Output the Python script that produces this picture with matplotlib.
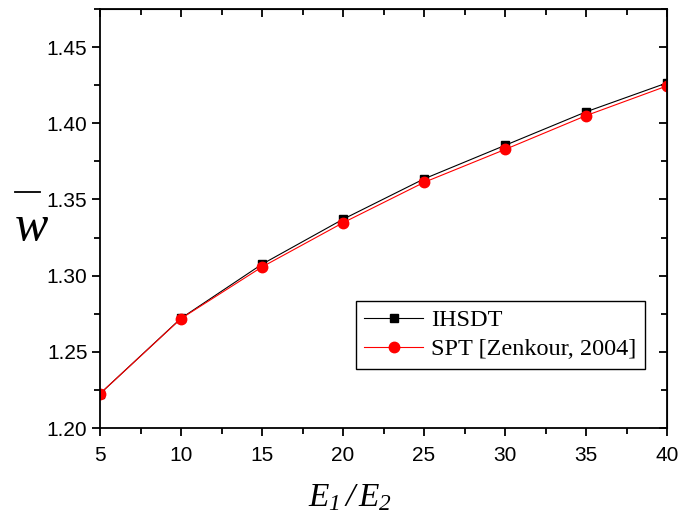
import numpy as np
import matplotlib.pyplot as plt
from matplotlib.ticker import MultipleLocator
from matplotlib.lines import Line2D

# data
ratio = [5, 10, 15, 20, 25, 30, 35, 40]
w_ihsdt = [1.2225, 1.2720, 1.3075, 1.3370, 1.3635, 1.3855, 1.4075, 1.4265]
w_spt = [1.2225, 1.2718, 1.3057, 1.3347, 1.3612, 1.3828, 1.4050, 1.4245]

plt.rcParams['mathtext.fontset'] = 'custom'
plt.rcParams['mathtext.rm'] = 'Liberation Serif:italic'
plt.rcParams['mathtext.it'] = 'Liberation Serif:italic'

fig = plt.figure(figsize=(6.8, 5.24), dpi=100)
ax = fig.add_axes([100/680, 96/524, 567/680, 419/524])

ax.plot(ratio, w_ihsdt, color='black', lw=0.8, marker='s', ms=6, label='IHSDT')
ax.plot(ratio, w_spt, color='red', lw=0.8, marker='o', ms=7.5, label='SPT [Zenkour, 2004]')

ax.set_xlim(5, 40)
ax.set_ylim(1.20, 1.475)
ax.xaxis.set_major_locator(MultipleLocator(5))
ax.xaxis.set_minor_locator(MultipleLocator(2.5))
ax.yaxis.set_major_locator(MultipleLocator(0.05))
ax.yaxis.set_minor_locator(MultipleLocator(0.025))
ax.yaxis.set_major_formatter(plt.FormatStrFormatter('%.2f'))

for sp in ax.spines.values():
    sp.set_linewidth(1.3)
ax.tick_params(which='both', direction='out', width=1.3, labelsize=15,
               labelfontfamily='Liberation Sans')
ax.tick_params(which='major', length=6)
ax.tick_params(which='minor', length=4)
ax.tick_params(axis='x', pad=7)
ax.tick_params(axis='y', pad=3)

# mirrored ticks pointing inward on top and right
top = ax.secondary_xaxis('top')
top.xaxis.set_major_locator(MultipleLocator(5))
top.xaxis.set_minor_locator(MultipleLocator(2.5))
top.tick_params(which='both', direction='in', width=1.3, labeltop=False)
top.tick_params(which='major', length=6)
top.tick_params(which='minor', length=4)
right = ax.secondary_yaxis('right')
right.yaxis.set_major_locator(MultipleLocator(0.05))
right.yaxis.set_minor_locator(MultipleLocator(0.025))
right.tick_params(which='both', direction='in', width=1.3, labelright=False)
right.tick_params(which='major', length=6)
right.tick_params(which='minor', length=4)

# y label: italic w with a bar drawn above it
fig.text(31/680, 1 - 228/524, 'w', fontsize=36, family='Liberation Serif',
         style='italic', ha='center', va='center')
fig.add_artist(Line2D([15/680, 40/680], [1 - 192/524, 1 - 192/524],
                      color='black', lw=1.3, transform=fig.transFigure))

fig.text(350/680, 1 - 497/524, r'$E_\mathit{1}\,/\,E_\mathit{2}$', fontsize=24,
         ha='center', va='center')

leg = ax.legend(loc='lower right', bbox_to_anchor=(645/680, (524-369)/524),
                bbox_transform=fig.transFigure, numpoints=1, fancybox=False,
                edgecolor='black', framealpha=1, borderpad=0.35, handlelength=2.4,
                handletextpad=0.35, labelspacing=0.3, borderaxespad=0,
                prop={'family': 'Liberation Serif', 'size': 17.5})
leg.get_frame().set_linewidth(1.0)

fig.savefig('out.png', dpi=100)
